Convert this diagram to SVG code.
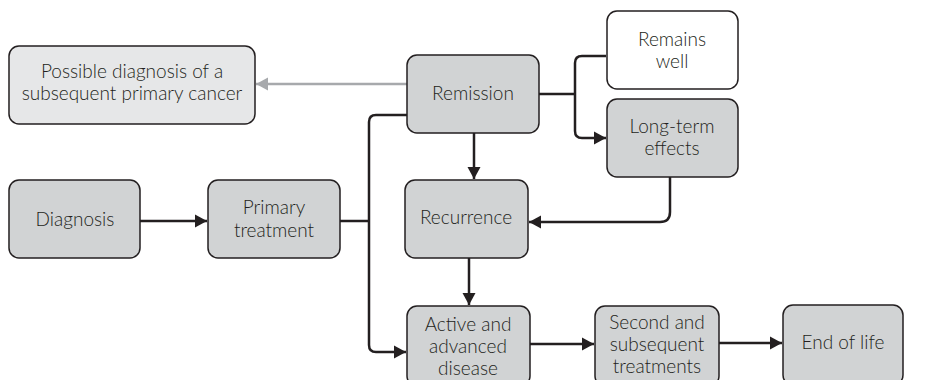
<svg xmlns="http://www.w3.org/2000/svg" width="933" height="380" viewBox="0 0 933 380">
<style>
.box{stroke:#231f20;stroke-width:1.5;fill:#d1d3d4}
.light{fill:#e6e7e8}
.white{fill:#ffffff}
text{font-family:Lato,"Open Sans","Liberation Sans",sans-serif;font-size:19px;font-weight:300;fill:#231f20;text-anchor:middle}
.c{fill:none;stroke:#231f20;stroke-width:2.5}
.g{fill:none;stroke:#a7a9ac;stroke-width:2.5}
</style>
<defs>
<marker id="ah" markerUnits="userSpaceOnUse" markerWidth="14" markerHeight="14" refX="12" refY="7" orient="auto">
<path d="M0,0.5 L12,7 L0,13.5 Z" fill="#231f20"/>
</marker>
<marker id="ahg" markerUnits="userSpaceOnUse" markerWidth="14" markerHeight="14" refX="12" refY="7" orient="auto">
<path d="M0,0.5 L12,7 L0,13.5 Z" fill="#a7a9ac"/>
</marker>
</defs>
<g id="connectors">
<path class="g" d="M407,84 H256" marker-end="url(#ahg)"/>
<path class="c" d="M140,221 H207" marker-end="url(#ah)"/>
<path class="c" d="M340,221 H369"/>
<path class="c" d="M407,115 H376 Q369,115 369,122 V345 Q369,352 376,352 H406" marker-end="url(#ah)"/>
<path class="c" d="M539,94 H575"/>
<path class="c" d="M606,56 H582 Q575,56 575,63 V131 Q575,138 582,138 H606" marker-end="url(#ah)"/>
<path class="c" d="M474,133 V179" marker-end="url(#ah)"/>
<path class="c" d="M670,177 V212 Q670,222 660,222 H529" marker-end="url(#ah)"/>
<path class="c" d="M469,258 V305" marker-end="url(#ah)"/>
<path class="c" d="M530,344 H594" marker-end="url(#ah)"/>
<path class="c" d="M719,343 H782" marker-end="url(#ah)"/>
</g>
<g id="possible">
<rect class="box light" x="9" y="46" width="246" height="78" rx="10"/>
<text x="132" y="78">Possible diagnosis of a</text>
<text x="132" y="100">subsequent primary cancer</text>
</g>
<g id="remission">
<rect class="box" x="407" y="55" width="132" height="78" rx="10"/>
<text x="473" y="100">Remission</text>
</g>
<g id="remains">
<rect class="box white" x="607" y="11" width="131" height="78" rx="10"/>
<text x="672" y="46">Remains</text>
<text x="672" y="68">well</text>
</g>
<g id="longterm">
<rect class="box" x="607" y="99" width="131" height="78" rx="10"/>
<text x="672" y="133">Long-term</text>
<text x="672" y="155">effects</text>
</g>
<g id="diagnosis">
<rect class="box" x="9" y="180" width="131" height="78" rx="10"/>
<text x="75" y="226">Diagnosis</text>
</g>
<g id="primary">
<rect class="box" x="208" y="180" width="132" height="78" rx="10"/>
<text x="274" y="214">Primary</text>
<text x="274" y="237">treatment</text>
</g>
<g id="recurrence">
<rect class="box" x="405" y="180" width="123" height="78" rx="10"/>
<text x="466" y="224">Recurrence</text>
</g>
<g id="active">
<rect class="box" x="407" y="306" width="123" height="80" rx="10"/>
<text x="468" y="331">Active and</text>
<text x="468" y="353">advanced</text>
<text x="468" y="375">disease</text>
</g>
<g id="second">
<rect class="box" x="595" y="306" width="124" height="80" rx="10"/>
<text x="657" y="329">Second and</text>
<text x="657" y="351">subsequent</text>
<text x="657" y="373">treatments</text>
</g>
<g id="endoflife">
<rect class="box" x="783" y="305" width="120" height="80" rx="10"/>
<text x="843" y="349">End of life</text>
</g>
</svg>
